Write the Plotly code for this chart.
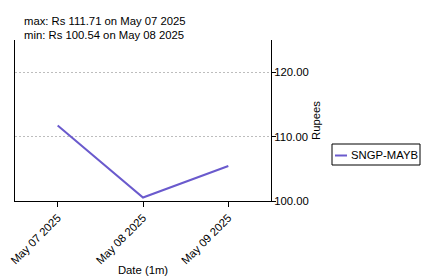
import plotly.graph_objects as go

dates = ["2025-05-07", "2025-05-08", "2025-05-09"]
prices = [111.71, 100.54, 105.43]
series_name = "SNGP-MAYB"
line_color = "#6a5acd"
ann_lines = ["max: Rs 111.71 on May 07 2025", "min: Rs 100.54 on May 08 2025"]

# plot area in pixels: x 15..271, y 40..201
L, R, T, B = 15, 271, 40, 201
def px(x):
    return (x - L) / (R - L)
def py(y):
    return (B - y) / (B - T)

fig = go.Figure()
fig.add_trace(go.Scatter(x=dates, y=prices, mode="lines", name=series_name,
                         line=dict(color=line_color, width=2), showlegend=False))

font = dict(family="Liberation Sans, Arial, sans-serif", size=11.3, color="black")
fig.update_layout(
    width=425, height=276,
    margin=dict(l=L, r=425 - R, t=T, b=276 - B, autoexpand=False),
    paper_bgcolor="white", plot_bgcolor="white",
    font=font,
    showlegend=False,
    xaxis=dict(range=["2025-05-06 12:00", "2025-05-09 12:00"],
               tickvals=dates, tickformat="%b %d %Y", tickangle=-45,
               ticks="outside", ticklen=5, tickcolor="black",
               showline=True, linecolor="black", linewidth=1,
               showgrid=False, zeroline=False, automargin=False,
               title=dict(text="Date (1m)", font=font, standoff=1)),
    yaxis=dict(range=[100, 125], side="right", tickvals=[100, 110, 120],
               tickformat=".2f", ticks="outside", ticklen=4, tickcolor="black",
               ticklabelstandoff=-4,
               showline=True, mirror=True, linecolor="black", linewidth=1,
               showgrid=True, gridcolor="#bdbdbd", griddash="2px,2px", gridwidth=1,
               zeroline=False, automargin=False,
               title=dict(text="Rupees", font=font, standoff=4)),
)
for t, yy in zip(ann_lines, [21, 35]):
    fig.add_annotation(text=t, xref="paper", yref="paper", x=px(22), y=py(yy),
                       xanchor="left", yanchor="middle", showarrow=False, font=font)

# legend box drawn as shapes + text
fig.add_shape(type="rect", xref="paper", yref="paper",
              x0=px(332), x1=px(420), y0=py(165), y1=py(144),
              line=dict(color="black", width=1), fillcolor="white")
fig.add_shape(type="line", xref="paper", yref="paper",
              x0=px(335), x1=px(347), y0=py(155.5), y1=py(155.5),
              line=dict(color=line_color, width=2))
fig.add_annotation(text=series_name, xref="paper", yref="paper", x=px(349), y=py(155),
                   xanchor="left", yanchor="middle", showarrow=False, font=font)

fig.write_html("out.html")
